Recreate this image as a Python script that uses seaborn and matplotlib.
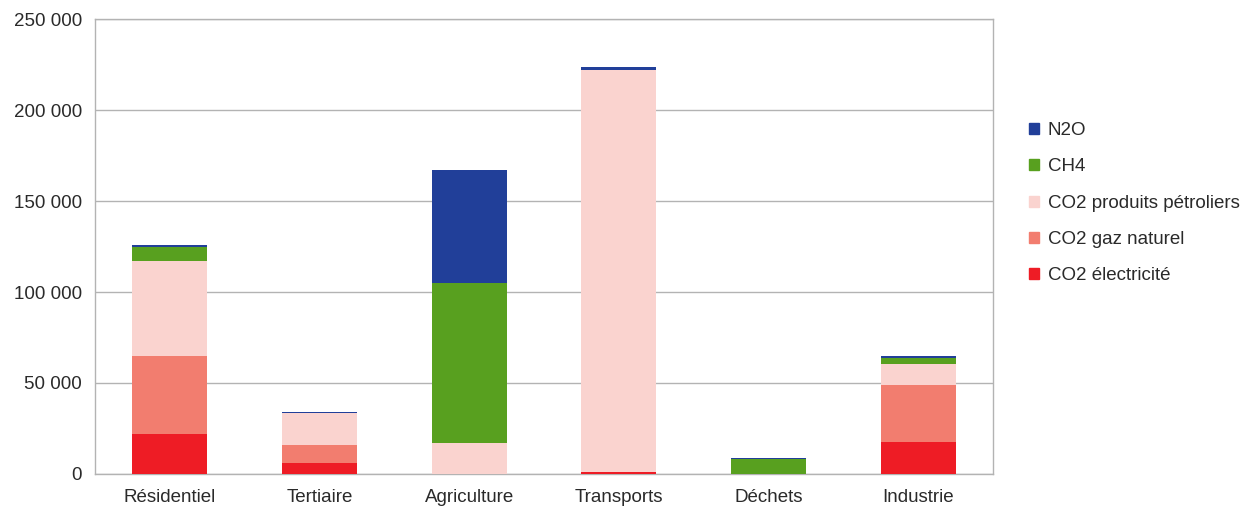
import numpy as np
import pandas as pd
import matplotlib
matplotlib.use("Agg")
import matplotlib.pyplot as plt
from matplotlib.ticker import FuncFormatter, FixedLocator
from matplotlib.patches import Patch
import seaborn as sns

# data (t CO2e)
secteurs = ["Résidentiel", "Tertiaire", "Agriculture", "Transports", "Déchets", "Industrie"]
co2_elec = [22100, 5900, 0, 1200, 0, 17700]
co2_gaz = [42900, 10200, 0, 0, 0, 31200]
co2_petrole = [52200, 17200, 16900, 220800, 0, 11700]
ch4 = [7700, 300, 87900, 0, 8300, 3300]
n2o = [1100, 400, 62100, 1800, 500, 800]

series = ["CO2 électricité", "CO2 gaz naturel", "CO2 produits pétroliers", "CH4", "N2O"]
colors = ["#ee1c25", "#f27d6f", "#fad3cf", "#58a01f", "#213f99"]

df = pd.DataFrame({
    "secteur": secteurs,
    "CO2 électricité": co2_elec,
    "CO2 gaz naturel": co2_gaz,
    "CO2 produits pétroliers": co2_petrole,
    "CH4": ch4,
    "N2O": n2o,
})

# cumulative heights, drawn top layer first so lower layers overlay
cum = df[series].cumsum(axis=1)
cum["secteur"] = df["secteur"]

sns.set_style("white")
plt.rcParams["font.family"] = ["Liberation Sans", "DejaVu Sans"]
FS = 13.5
plt.rcParams["font.size"] = FS

fig = plt.figure(figsize=(12.4, 5.07), dpi=100)
ax = fig.add_axes([0.0766, 0.0651, 0.7242, 0.8974])

for s, c in reversed(list(zip(series, colors))):
    sns.barplot(data=cum, x="secteur", y=s, color=c, width=0.5,
                saturation=1, linewidth=0, ax=ax, zorder=3)

ax.set_ylim(0, 250000)
ax.set_xlim(-0.5, 5.5)
ax.set_xlabel("")
ax.set_ylabel("")
ax.yaxis.set_major_locator(FixedLocator(np.arange(0, 250001, 50000)))
ax.yaxis.set_major_formatter(FuncFormatter(lambda v, p: f"{int(v):,}".replace(",", " ")))

ax.grid(True, axis="y", color="#b3b3b3", linewidth=1, zorder=0)
ax.grid(False, axis="x")
for sp in ax.spines.values():
    sp.set_visible(True)
    sp.set_color("#b3b3b3")
    sp.set_linewidth(1)

# category ticks sit between the bars
ax.set_xticks(np.arange(6))
ax.set_xticklabels(secteurs)
ax.tick_params(axis="x", length=0, pad=10.5, colors="#2a2a2a", labelsize=FS)
ax.set_xticks(np.arange(-0.5, 6, 1), minor=True)
ax.tick_params(axis="x", which="minor", length=5, color="#b3b3b3", direction="out")
ax.tick_params(axis="y", length=6, direction="out", pad=3.5,
               colors="#2a2a2a", labelsize=FS)
ax.tick_params(axis="y", color="#b3b3b3")

handles = [Patch(color=c, label=s) for s, c in zip(series, colors)][::-1]
fig.legend(handles=handles, loc="center left", bbox_to_anchor=(0.816, 0.599),
           frameon=False, handlelength=0.53, handleheight=0.53, handletextpad=0.48,
           labelspacing=1.03, fontsize=FS, labelcolor="#2a2a2a")

fig.savefig("out.png", dpi=100)
